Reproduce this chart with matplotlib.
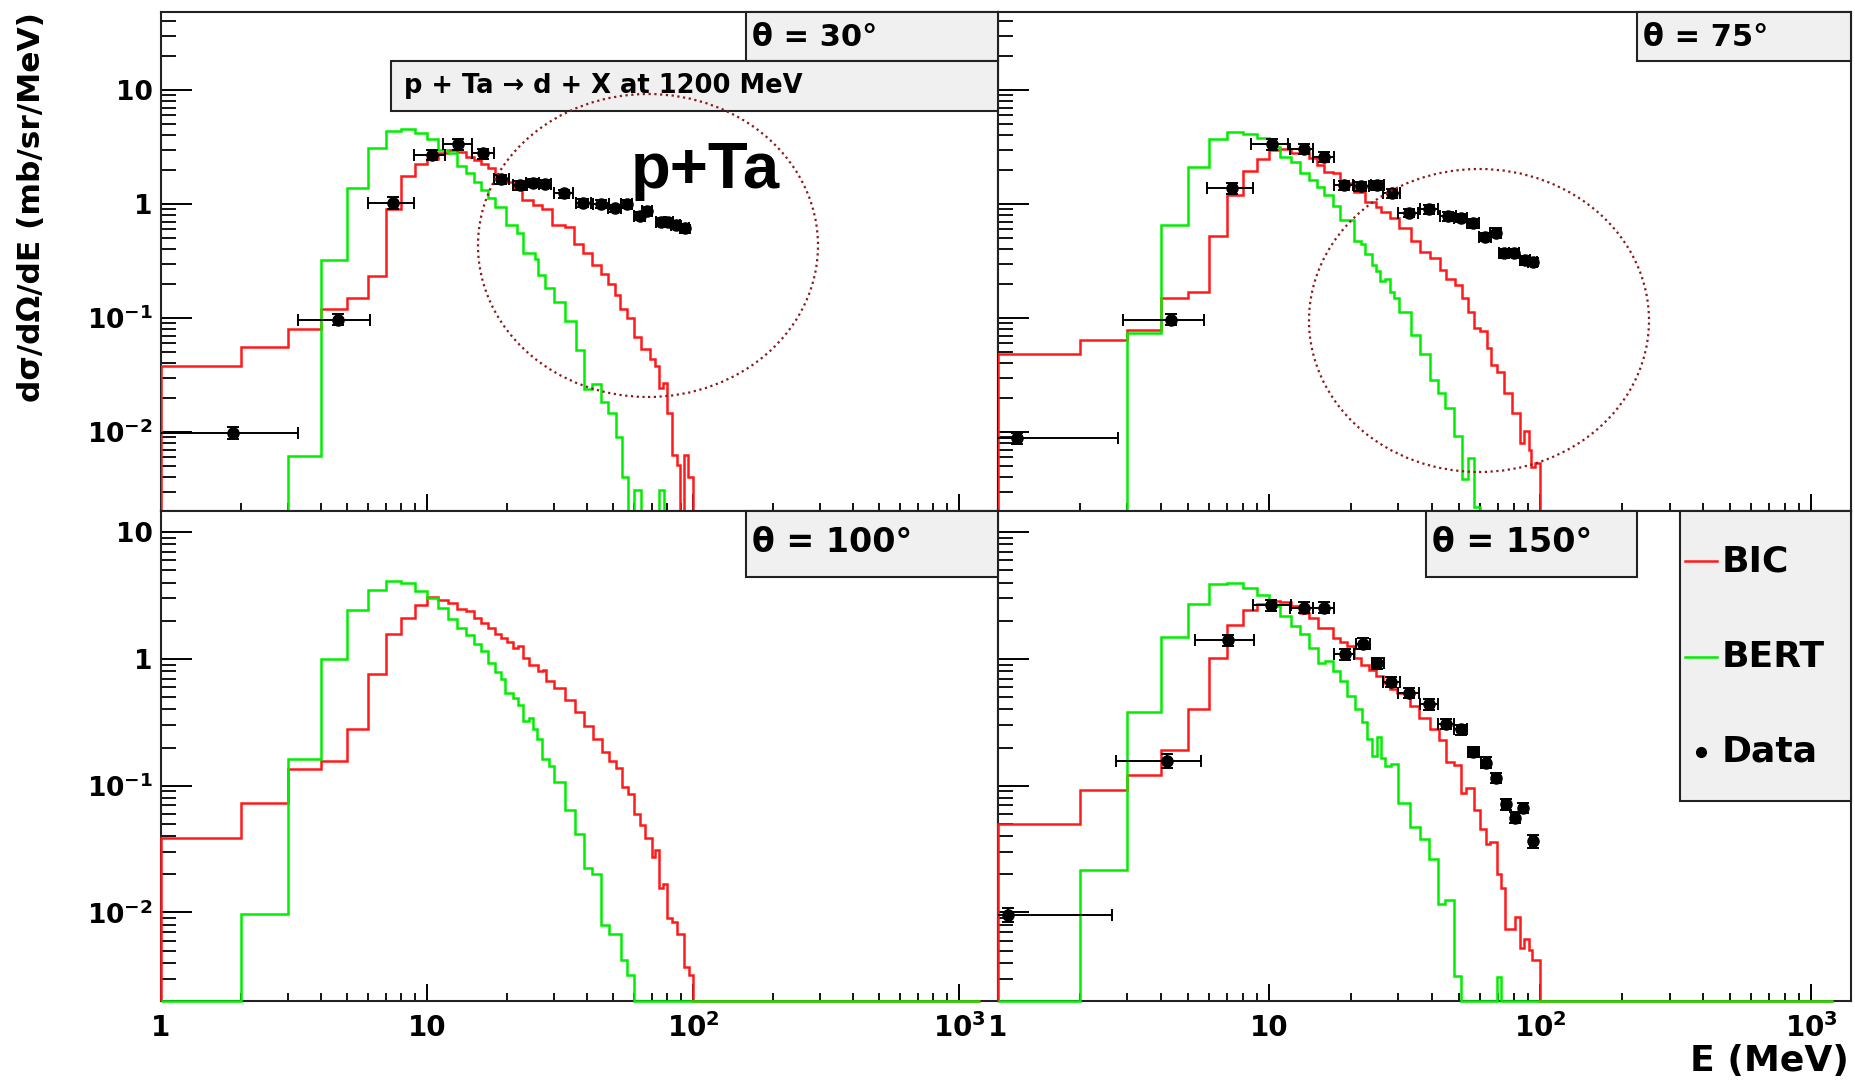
# p + Ta -> d + X at 1200 MeV : BIC / BERT frente a datos, cuatro ángulos.
import numpy as np
import matplotlib
matplotlib.use("Agg")
import matplotlib.pyplot as plt
from matplotlib.patches import Rectangle, Ellipse
from matplotlib.lines import Line2D
from matplotlib.ticker import FixedLocator, FixedFormatter, LogLocator, NullFormatter

plt.rcParams["font.family"] = ["DejaVu Sans"]
plt.rcParams["font.weight"] = "bold"
plt.rcParams["mathtext.default"] = "bf"

# ---------------- theta = 30 ----------------
tl_bic_edges = [1, 2, 3, 4, 5, 6, 7, 8, 9, 10, 11, 12, 13, 14, 15, 16, 17, 18, 19, 20, 21,
                22.8, 25, 27, 29.6, 33, 35.8, 38.5, 41.6, 44.9, 47.8, 50.8, 53.2, 56.6, 59.8,
                63.7, 68.6, 72, 74.7, 77.1, 79.6, 83.3, 86.7, 89.4, 92.2, 95.7, 99.6, 1200]
tl_bic = [0.038, 0.0557, 0.0796, 0.12, 0.149, 0.235, 0.90, 1.75, 2.24, 2.47,
          2.82, 2.98, 2.84, 2.60, 2.43, 2.24, 2.06, 1.80, 1.68, 1.57,
          1.42, 1.08, 0.98, 0.904, 0.654, 0.624, 0.443, 0.369, 0.292, 0.242,
          0.199, 0.159, 0.12, 0.101, 0.0686, 0.0531, 0.0434, 0.0379, 0.0242, 0.0267,
          0.0146, 0.00628, 0.00514, 0, 0.00628, 0.00406, 0]
tl_bert_edges = [1, 3, 4, 5, 6, 7, 8, 9, 10, 11, 12, 13, 14, 15, 16, 17, 18,
                 19.8, 21.7, 23, 25.4, 26.1, 27.8, 30.1, 33, 36.2, 38.9, 41.6, 45, 47.9,
                 51.5, 54.2, 57.1, 60, 63.7, 74.4, 77.7, 1200]
tl_bert = [0, 0.0062, 0.323, 1.37, 3.08, 4.40, 4.55, 4.17, 3.69, 2.98, 2.82, 2.15, 1.88,
           1.57, 1.33, 1.12, 0.947, 0.654, 0.553, 0.369, 0.33, 0.238, 0.182, 0.139, 0.0941,
           0.0524, 0.0237, 0.0264, 0.0185, 0.0146, 0.0091, 0.00406, 0, 0.0031, 0, 0.0031, 0]
tl_e = [1.87, 4.64, 7.42, 10.4, 13.1, 16.2, 19.0, 22.4, 25.0, 27.8, 32.8, 38.7, 45.2,
        50.8, 56.3, 63.1, 67.1, 75.9, 80.7, 85.9, 92.9]
tl_v = [0.0099, 0.097, 1.03, 2.69, 3.34, 2.78, 1.66, 1.47, 1.54, 1.50, 1.24, 1.03, 1.01,
        0.916, 1.01, 0.785, 0.874, 0.70, 0.70, 0.654, 0.611]
tl_elo = [0.5, 3.28, 5.98, 8.9, 11.5, 14.8, 17.8, 21.0, 23.6, 26.3, 30.1, 36.2, 42.0,
          48.0, 53.5, 60.0, 64.0, 72.5, 77.5, 82.5, 89.5]
tl_ehi = [3.28, 6.09, 8.93, 11.7, 14.8, 17.8, 20.3, 23.8, 26.4, 29.3, 35.5, 41.2, 48.4,
          53.6, 59.0, 66.2, 70.2, 79.3, 83.9, 89.3, 96.3]
tl_dv = [0.0012, 0.011, 0.12, 0.28, 0.35, 0.28, 0.15, 0.13, 0.13, 0.13, 0.1, 0.08, 0.08,
         0.07, 0.08, 0.06, 0.07, 0.05, 0.05, 0.05, 0.05]

# ---------------- theta = 75 ----------------
tr_bic_edges = [1, 2, 3, 4, 5, 6, 7, 8, 9, 10, 11, 12, 13, 14, 15, 16, 17.2, 18.3, 20.6,
                22.6, 24.7, 25.9, 27.9, 30.1, 33.3, 35.9, 39.2, 42.5, 45.1, 48.5, 51.3, 54.1,
                57, 60, 63.4, 65.9, 69.4, 73.7, 78.4, 84, 87.1, 90.6, 92.6, 95.5, 99.8, 1200]
tr_bic = [0.0483, 0.0641, 0.0785, 0.149, 0.170, 0.527, 1.20, 1.95, 2.47, 2.98, 3.02, 2.82,
          2.78, 2.52, 2.20, 1.92, 1.86, 1.54, 1.28, 1.05, 0.947, 0.857, 0.749, 0.612, 0.477,
          0.382, 0.334, 0.264, 0.218, 0.195, 0.149, 0.114, 0.0811, 0.0774, 0.0542, 0.0387,
          0.0338, 0.0221, 0.0148, 0.00806, 0.0103, 0.00695, 0.00497, 0.00538, 0]
tr_bert_edges = [1, 3, 4, 5, 6, 7, 8, 9, 10, 11, 12, 13, 14, 15, 16, 17.2, 18.2, 20.6, 21.8,
                 22.6, 24, 24.7, 25.7, 26.7, 27.9, 28.8, 30.1, 33.3, 35.9, 39.2, 42.1, 44.7,
                 48.2, 51.3, 54.1, 57, 60, 1200]
tr_bert = [0, 0.0733, 0.654, 2.10, 3.69, 4.25, 4.11, 3.77, 3.14, 2.60, 2.35, 1.88, 1.62,
           1.40, 1.20, 0.96, 0.724, 0.473, 0.443, 0.364, 0.292, 0.260, 0.211, 0.22, 0.170,
           0.149, 0.114, 0.0710, 0.048, 0.0286, 0.0221, 0.0161, 0.00922, 0.00385, 0.00588,
           0.0022, 0]
tr_e = [1.18, 4.35, 7.28, 10.26, 13.4, 15.9, 18.9, 21.9, 25.1, 28.4, 32.7, 39.0, 45.6,
        50.9, 56.6, 62.4, 68.4, 73.8, 80.1, 87.9, 94.0]
tr_v = [0.0088, 0.097, 1.37, 3.34, 3.04, 2.60, 1.47, 1.44, 1.47, 1.24, 0.839, 0.898, 0.785,
        0.749, 0.677, 0.517, 0.560, 0.369, 0.374, 0.322, 0.312]
tr_elo = [0.5, 2.88, 5.89, 8.6, 11.9, 14.5, 17.4, 20.5, 23.7, 26.4, 30.0, 36.0, 42.5,
          48.0, 53.7, 59.2, 65.0, 70.6, 76.8, 84.4, 90.4]
tr_ehi = [2.78, 5.77, 8.73, 11.76, 14.5, 17.4, 20.4, 23.3, 26.5, 30.4, 35.4, 42.0, 48.7,
          53.8, 59.5, 65.6, 71.8, 77.0, 83.4, 91.4, 97.6]
tr_dv = [0.001, 0.011, 0.15, 0.35, 0.3, 0.26, 0.13, 0.13, 0.13, 0.11, 0.07, 0.08, 0.07,
         0.06, 0.06, 0.045, 0.05, 0.03, 0.03, 0.028, 0.027]

# ---------------- theta = 100 ----------------
bl_bic_edges = [1, 2, 3, 4, 5, 6, 7, 8, 9, 10, 11, 12, 13, 14, 15, 16, 17, 18, 19, 20, 21,
                22, 23, 24.2, 26.2, 27.2, 28, 30.1, 33, 36, 38.9, 41.9, 45.4, 48.1, 51.2,
                54.1, 57, 59.9, 63.1, 66.1, 69.9, 72.1, 74.4, 77.2, 80, 83.3, 86.7, 92.8,
                96.3, 99.7, 1200]
bl_bic = [0.0389, 0.0734, 0.1345, 0.158, 0.278, 0.766, 1.585, 2.12, 2.65, 3.09, 2.90, 2.75,
          2.47, 2.39, 2.09, 1.91, 1.75, 1.585, 1.47, 1.35, 1.23, 1.27, 1.02, 0.897, 0.804,
          0.819, 0.670, 0.594, 0.475, 0.382, 0.296, 0.235, 0.186, 0.158, 0.139, 0.0976,
          0.0855, 0.0601, 0.0489, 0.0388, 0.0273, 0.0308, 0.0157, 0.0168, 0.00897, 0.00844,
          0.0067, 0.0037, 0.00318, 0]
bl_bert_edges = [1, 2, 3, 4, 5, 6, 7, 8, 9, 10, 11, 12, 13, 14, 15, 16, 17, 18, 19, 19.7,
                 21, 22, 23, 24.2, 25, 26, 27, 28.7, 30.1, 33, 36, 38.9, 41.6, 45, 48.1,
                 53.6, 56.6, 59.9, 1200]
bl_bert = [0, 0.00965, 0.161, 1.0, 2.42, 3.53, 4.13, 4.0, 3.42, 3.01, 2.54, 2.06, 1.77,
           1.54, 1.31, 1.16, 0.925, 0.79, 0.691, 0.542, 0.495, 0.433, 0.324, 0.344, 0.278,
           0.232, 0.161, 0.143, 0.1076, 0.0643, 0.0413, 0.0225, 0.02, 0.00794, 0.00679,
           0.00418, 0.0032, 0]

# ---------------- theta = 150 ----------------
br_bic_edges = [1, 2, 3, 4, 5, 6, 7, 8, 9, 10, 11, 12, 13, 14, 15.1, 17.2, 18.2, 19.3,
                20.6, 21.9, 23.3, 24.7, 26.4, 27.9, 29.7, 33.2, 35.8, 39.2, 42.4, 45, 48.2,
                50.9, 53.1, 57, 60, 63, 65.3, 69, 71.5, 74.2, 80.7, 84.5, 87.1, 90.6, 93.1,
                99.8, 1200]
br_bic = [0.0501, 0.0919, 0.1214, 0.190, 0.406, 1.02, 1.855, 2.42, 2.70, 2.87, 2.82, 2.62,
          2.32, 2.09, 1.75, 1.47, 1.37, 1.27, 1.02, 0.897, 0.814, 0.735, 0.650, 0.576,
          0.542, 0.426, 0.344, 0.278, 0.228, 0.155, 0.146, 0.0881, 0.0953, 0.0639, 0.0452,
          0.0348, 0.0361, 0.02, 0.0155, 0.00734, 0.00919, 0.00526, 0.00612, 0.00501,
          0.00418, 0]
br_bert_edges = [1, 2, 3, 4, 5, 6, 7, 8, 9, 10, 11, 12, 13, 14, 15.1, 16.1, 17.2, 18.2,
                 19.3, 20.7, 22, 22.9, 24, 24.9, 25.9, 26.8, 28.1, 29.9, 33.2, 35.9, 39,
                 42.1, 44.7, 48.2, 50.9, 69, 71.5, 1200]
br_bert = [0, 0.0218, 0.382, 1.49, 2.70, 3.89, 3.98, 3.61, 3.20, 2.62, 2.17, 1.82, 1.585,
           1.23, 0.936, 0.965, 0.804, 0.670, 0.510, 0.401, 0.318, 0.232, 0.171, 0.242,
           0.166, 0.143, 0.147, 0.0734, 0.0472, 0.0377, 0.0265, 0.01156, 0.01245, 0.00314,
           0, 0.00311, 0]
br_e = [1.09, 4.19, 7.06, 10.2, 13.4, 15.9, 19.0, 22.2, 25.1, 28.2, 32.8, 39.0, 45.0,
        50.9, 56.6, 63.0, 68.8, 74.8, 80.8, 86.5, 94.0]
br_v = [0.0096, 0.157, 1.40, 2.65, 2.54, 2.54, 1.09, 1.32, 0.93, 0.658, 0.542, 0.439, 0.309,
        0.278, 0.185, 0.152, 0.116, 0.0711, 0.0560, 0.0671, 0.0366]
br_elo = [0.5, 2.72, 5.34, 8.7, 11.9, 14.5, 17.4, 20.9, 23.9, 26.3, 30.0, 36.0, 42.0,
          48.2, 54.0, 60.5, 66.3, 72.3, 78.3, 84.0, 91.5]
br_ehi = [2.64, 5.59, 8.76, 12.0, 14.5, 17.4, 20.6, 23.5, 26.5, 30.3, 35.8, 42.0, 48.1,
          53.6, 59.2, 65.5, 71.3, 77.3, 83.3, 89.0, 96.5]
br_dv = [0.0012, 0.02, 0.14, 0.26, 0.25, 0.25, 0.11, 0.13, 0.09, 0.06, 0.05, 0.04, 0.028,
         0.025, 0.017, 0.015, 0.011, 0.007, 0.0055, 0.0065, 0.0045]

ROJO = "#ff1a1a"
VERDE = "#00ee00"
GRIS = "#f0f0f0"

W, H = 1856.0, 1081.0
fig = plt.figure(figsize=(W / 100, H / 100), dpi=100)


def caja(x0, y0, x1, y1):
    # píxeles (desde arriba a la izquierda) -> fracción de figura
    return [x0 / W, 1 - y1 / H, (x1 - x0) / W, (y1 - y0) / H]


def panel(rect, ylim, abajo, izquierda):
    ax = fig.add_axes(caja(*rect))
    ax.set_xscale("log")
    ax.set_yscale("log")
    ax.set_xlim(1, 1400)
    ax.set_ylim(*ylim)
    ax.xaxis.set_major_locator(FixedLocator([1, 10, 100, 1000]))
    ax.xaxis.set_major_formatter(FixedFormatter(["1", "10", "$10^{2}$", "$10^{3}$"]))
    ax.xaxis.set_minor_locator(LogLocator(base=10, subs=np.arange(2, 10), numticks=30))
    ax.xaxis.set_minor_formatter(NullFormatter())
    ax.yaxis.set_major_locator(FixedLocator([0.01, 0.1, 1, 10]))
    ax.yaxis.set_major_formatter(FixedFormatter(["$10^{-2}$", "$10^{-1}$", "1", "10"]))
    ax.yaxis.set_minor_locator(LogLocator(base=10, subs=np.arange(2, 10), numticks=30))
    ax.yaxis.set_minor_formatter(NullFormatter())
    ax.tick_params(axis="y", which="major", direction="in", length=22, width=1.4, pad=6,
                   labelsize=19, labelleft=izquierda)
    ax.tick_params(axis="y", which="minor", direction="in", length=11, width=1.3)
    ax.tick_params(axis="x", which="major", direction="in", length=12, width=1.4, pad=9,
                   labelsize=20, labelbottom=abajo)
    ax.tick_params(axis="x", which="minor", direction="in", length=5.5, width=1.3)
    for s in ax.spines.values():
        s.set_linewidth(1.5)
        s.set_color("#222222")
    return ax


def histo(ax, edges, vals, color, suelo, sin_clip):
    v = np.array(vals, dtype=float)
    v = np.where(v > 0, v, suelo)
    ax.stairs(v, edges, baseline=suelo, color=color, lw=1.8, zorder=3,
              clip_on=not sin_clip)


def datos(ax, e, v, lo, hi, dv):
    e = np.array(e)
    xerr = [e - np.array(lo), np.array(hi) - e]
    ax.errorbar(e, v, xerr=xerr, yerr=dv, fmt="o", color="black", ms=8,
                elinewidth=1.4, capsize=4, capthick=1.4, zorder=4)


ylim_arriba = (0.00203, 48.3)
ylim_abajo = (0.002, 14.7)

ax_tl = panel((161, 12, 998, 511), ylim_arriba, False, True)
ax_tr = panel((998, 12, 1851, 511), ylim_arriba, False, False)
ax_bl = panel((161, 511, 998, 1001), ylim_abajo, True, True)
ax_br = panel((998, 511, 1851, 1001), ylim_abajo, True, False)

histo(ax_tl, tl_bic_edges, tl_bic, ROJO, 0.0019, False)
histo(ax_tl, tl_bert_edges, tl_bert, VERDE, 0.0019, False)
datos(ax_tl, tl_e, tl_v, tl_elo, tl_ehi, tl_dv)

histo(ax_tr, tr_bic_edges, tr_bic, ROJO, 0.0019, False)
histo(ax_tr, tr_bert_edges, tr_bert, VERDE, 0.0019, False)
datos(ax_tr, tr_e, tr_v, tr_elo, tr_ehi, tr_dv)

histo(ax_bl, bl_bic_edges, bl_bic, ROJO, 0.002, True)
histo(ax_bl, bl_bert_edges, bl_bert, VERDE, 0.002, True)

histo(ax_br, br_bic_edges, br_bic, ROJO, 0.002, True)
histo(ax_br, br_bert_edges, br_bert, VERDE, 0.002, True)
datos(ax_br, br_e, br_v, br_elo, br_ehi, br_dv)


# cajas de texto estilo ROOT
def pave(x0, y0, x1, y1, texto, tx, ty, size):
    r = caja(x0, y0, x1, y1)
    fig.add_artist(Rectangle((r[0], r[1]), r[2], r[3], transform=fig.transFigure,
                             facecolor=GRIS, edgecolor="#222222", lw=1.5, zorder=5))
    if texto:
        fig.text(tx / W, 1 - ty / H, texto, fontsize=size, fontweight="bold",
                 ha="left", va="center", zorder=6)


pave(746, 12, 998, 61, "θ = 30°", 752, 37, 22)
pave(391, 61, 998, 111, "p + Ta → d + X at 1200 MeV", 404, 86, 18.5)
pave(1637, 12, 1851, 61, "θ = 75°", 1643, 37, 22)
pave(746, 511, 998, 577, "θ = 100°", 752, 543, 24)
pave(1426, 511, 1637, 577, "θ = 150°", 1432, 543, 24)

# leyenda
pave(1680, 511, 1851, 801, None, 0, 0, 0)
fig.add_artist(Line2D([1685 / W, 1717 / W], [1 - 561 / H] * 2, color=ROJO, lw=1.8, zorder=6))
fig.add_artist(Line2D([1685 / W, 1717 / W], [1 - 657 / H] * 2, color=VERDE, lw=1.8, zorder=6))
fig.add_artist(Line2D([1701 / W], [1 - 752 / H], marker="o", ms=7, color="black", zorder=6))
for txt, yy in [("BIC", 561), ("BERT", 657), ("Data", 752)]:
    fig.text(1722 / W, 1 - yy / H, txt, fontsize=26, fontweight="bold", ha="left",
             va="center", zorder=6)

# elipses punteadas
for cx, cy in [(648, 245.5), (1479, 320.5)]:
    fig.add_artist(Ellipse((cx / W, 1 - cy / H), 340 / W, 303 / H, transform=fig.transFigure,
                           fill=False, edgecolor="#8b1a1a", lw=1.6,
                           linestyle=(0, (1, 1.6)), zorder=7))

fig.text(631 / W, 1 - 188 / H, "p+Ta", fontsize=47, fontweight="bold",
         family=["Liberation Sans", "DejaVu Sans"], ha="left", va="baseline", zorder=8)

# títulos de ejes
fig.text(32 / W, 1 - 12 / H, "dσ/dΩ/dE (mb/sr/MeV)", fontsize=22.5, fontweight="bold",
         rotation=90, ha="center", va="top")
fig.text(1849 / W, 1 - 1061 / H, "E (MeV)", fontsize=26, fontweight="bold",
         ha="right", va="center")

fig.savefig("out.png", dpi=100)
